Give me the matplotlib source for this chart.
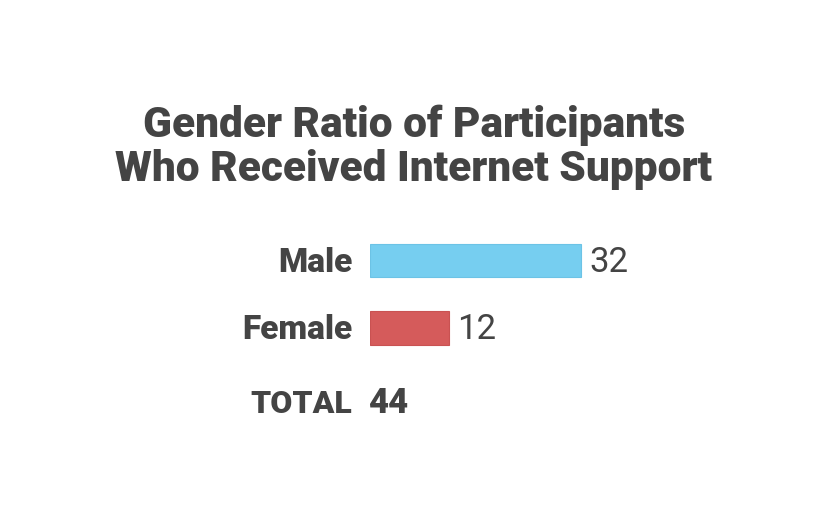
import matplotlib
matplotlib.use('Agg')
import matplotlib.pyplot as plt

# Data
categories = ['Male', 'Female']
values = [32, 12]
colors = ['#76cef0', '#d55b5b']
total_label = 'TOTAL'
total_value = sum(values)
title_lines = ['Gender Ratio of Participants', 'Who Received Internet Support']

plt.rcParams['font.family'] = ['Roboto', 'DejaVu Sans']
text_color = '#444444'

W, H = 818, 525
fig = plt.figure(figsize=(W / 100, H / 100), dpi=100)

# axes placed so one unit is ~6.6 px and rows are ~67.5 px apart
px_unit = 6.6
xmax = 40
row = 67.5
ylo, yhi = -0.5, 2.6
left_px = 370
top_px = 260.5 + ylo * row
bottom_px = 260.5 + yhi * row
ax = fig.add_axes([left_px / W, 1 - bottom_px / H,
                   xmax * px_unit / W, (bottom_px - top_px) / H])

ypos = list(range(len(categories)))
ax.barh(ypos, values, height=0.49, color=colors, edgecolor=['#6cc3e6', '#c95252'],
        linewidth=0.8)
ax.set_xlim(0, xmax)
ax.set_ylim(yhi, ylo)
ax.axis('off')

base_off = 0.17   # baseline sits a bit below the bar centre
for y, cat, v in zip(ypos, categories, values):
    ax.text(-2.7, y + base_off, cat, ha='right', va='baseline', fontsize=24,
            fontweight=900, color=text_color)
    ax.text(v + 1.2, y + base_off, str(v), ha='left', va='baseline', fontsize=25,
            color=text_color)

total_y = 2.26
ax.text(-2.7, total_y, total_label, ha='right', va='baseline', fontsize=23,
        fontweight=900, color=text_color)
ax.text(-0.3, total_y, str(total_value), ha='left', va='baseline', fontsize=25,
        fontweight=900, color=text_color)

for line, base in zip(title_lines, [137, 181]):
    fig.text(414 / W, 1 - base / H, line, ha='center', va='baseline',
             fontsize=30.5, fontweight=900, color=text_color)

fig.savefig('out.png', dpi=100, facecolor='white')
